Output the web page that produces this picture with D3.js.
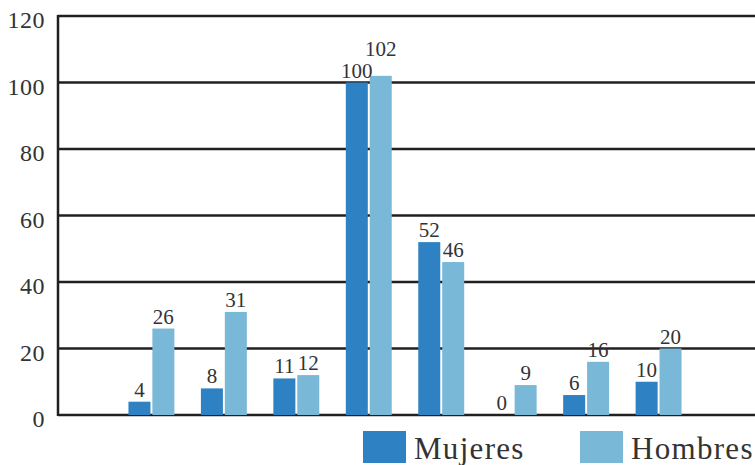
<!DOCTYPE html>
<html>
<head>
<meta charset="utf-8">
<script src="https://cdn.jsdelivr.net/npm/d3@7"></script>
<style>
  body { margin: 0; background: #fff; }
  text { font-family: "Liberation Serif", "DejaVu Serif", serif; fill: #333; }
</style>
</head>
<body>
<div id="chart"></div>
<script>
// categories (no labels shown in the chart)
const categories = ["1", "2", "3", "4", "5", "6", "7", "8"];
const series = ["Mujeres", "Hombres"];
const mujeres = [4, 8, 11, 100, 52, 0, 6, 10];
const hombres = [26, 31, 12, 102, 46, 9, 16, 20];
const yTicks = [0, 20, 40, 60, 80, 100, 120];
const colors = ["#2e82c4", "#7ab8d8"];

const width = 755, height = 465;
const margin = {top: 16, right: 0, bottom: 50, left: 58};

const svg = d3.select("#chart").append("svg")
    .attr("width", width)
    .attr("height", height);

const y = d3.scaleLinear()
    .domain([0, 120])
    .range([415, 16]);

const x = d3.scaleBand()
    .domain(categories)
    .range([56, 754])
    .paddingInner(0.366)
    .paddingOuter(1);

const xSub = d3.scaleBand()
    .domain(series)
    .range([0, x.bandwidth()])
    .paddingInner(0.08);

// gridlines
svg.append("g")
    .selectAll("line")
    .data(yTicks)
    .join("line")
    .attr("x1", margin.left)
    .attr("x2", width)
    .attr("y1", d => y(d))
    .attr("y2", d => y(d))
    .attr("stroke", "#231f20")
    .attr("stroke-width", 2.5);

// y axis line
svg.append("line")
    .attr("x1", margin.left)
    .attr("x2", margin.left)
    .attr("y1", y(120) - 1)
    .attr("y2", y(0) + 1)
    .attr("stroke", "#231f20")
    .attr("stroke-width", 2.5);

// tick labels
svg.append("g")
    .selectAll("text")
    .data(yTicks)
    .join("text")
    .attr("x", 45)
    .attr("y", d => y(d) + 12)
    .attr("text-anchor", "end")
    .style("font-size", "24px")
    .style("letter-spacing", "0.5px")
    .text(d => d);

// bars
let rows = categories.map((c, i) => ({cat: c, values: [mujeres[i], hombres[i]]}));

let groups = svg.append("g")
    .selectAll("g")
    .data(rows)
    .join("g")
    .attr("transform", d => "translate(" + x(d.cat) + ",0)");

groups.selectAll("rect")
    .data(d => d.values.map((v, j) => ({s: series[j], v: v, j: j})))
    .join("rect")
    .attr("x", d => xSub(d.s))
    .attr("y", d => y(d.v))
    .attr("width", xSub.bandwidth())
    .attr("height", d => y(0) - y(d.v))
    .attr("fill", d => colors[d.j]);

let labels = groups.selectAll("text")
    .data(d => d.values.map((v, j) => ({s: series[j], v: v, j: j})))
    .join("text")
    .attr("x", d => xSub(d.s) + xSub.bandwidth() / 2)
    .attr("y", d => y(d.v) - 5)
    .attr("text-anchor", "middle")
    .style("font-size", "21px")
    .text(d => d.v);

// lift the second label when the pair would collide
groups.each(function () {
    let t = d3.select(this).selectAll("text").nodes();
    let w = (t[0].getComputedTextLength() + t[1].getComputedTextLength()) / 2;
    let dx = +t[1].getAttribute("x") - +t[0].getAttribute("x");
    let y0 = +t[0].getAttribute("y"), y1 = +t[1].getAttribute("y");
    if (w > dx - 2 && Math.abs(y0 - y1) < 16) {
        d3.select(t[1]).attr("y", Math.min(y0, y1) - 15);
    }
});

// legend
const legendX = [363, 580];
let legend = svg.append("g")
    .selectAll("g")
    .data(series)
    .join("g")
    .attr("transform", (d, i) => "translate(" + legendX[i] + ",431)");

legend.append("rect")
    .attr("width", 43)
    .attr("height", 32)
    .attr("fill", (d, i) => colors[i]);

legend.append("text")
    .attr("x", 51)
    .attr("y", 28)
    .style("font-size", "31px")
    .style("letter-spacing", "1.3px")
    .text(d => d);
</script>
</body>
</html>
